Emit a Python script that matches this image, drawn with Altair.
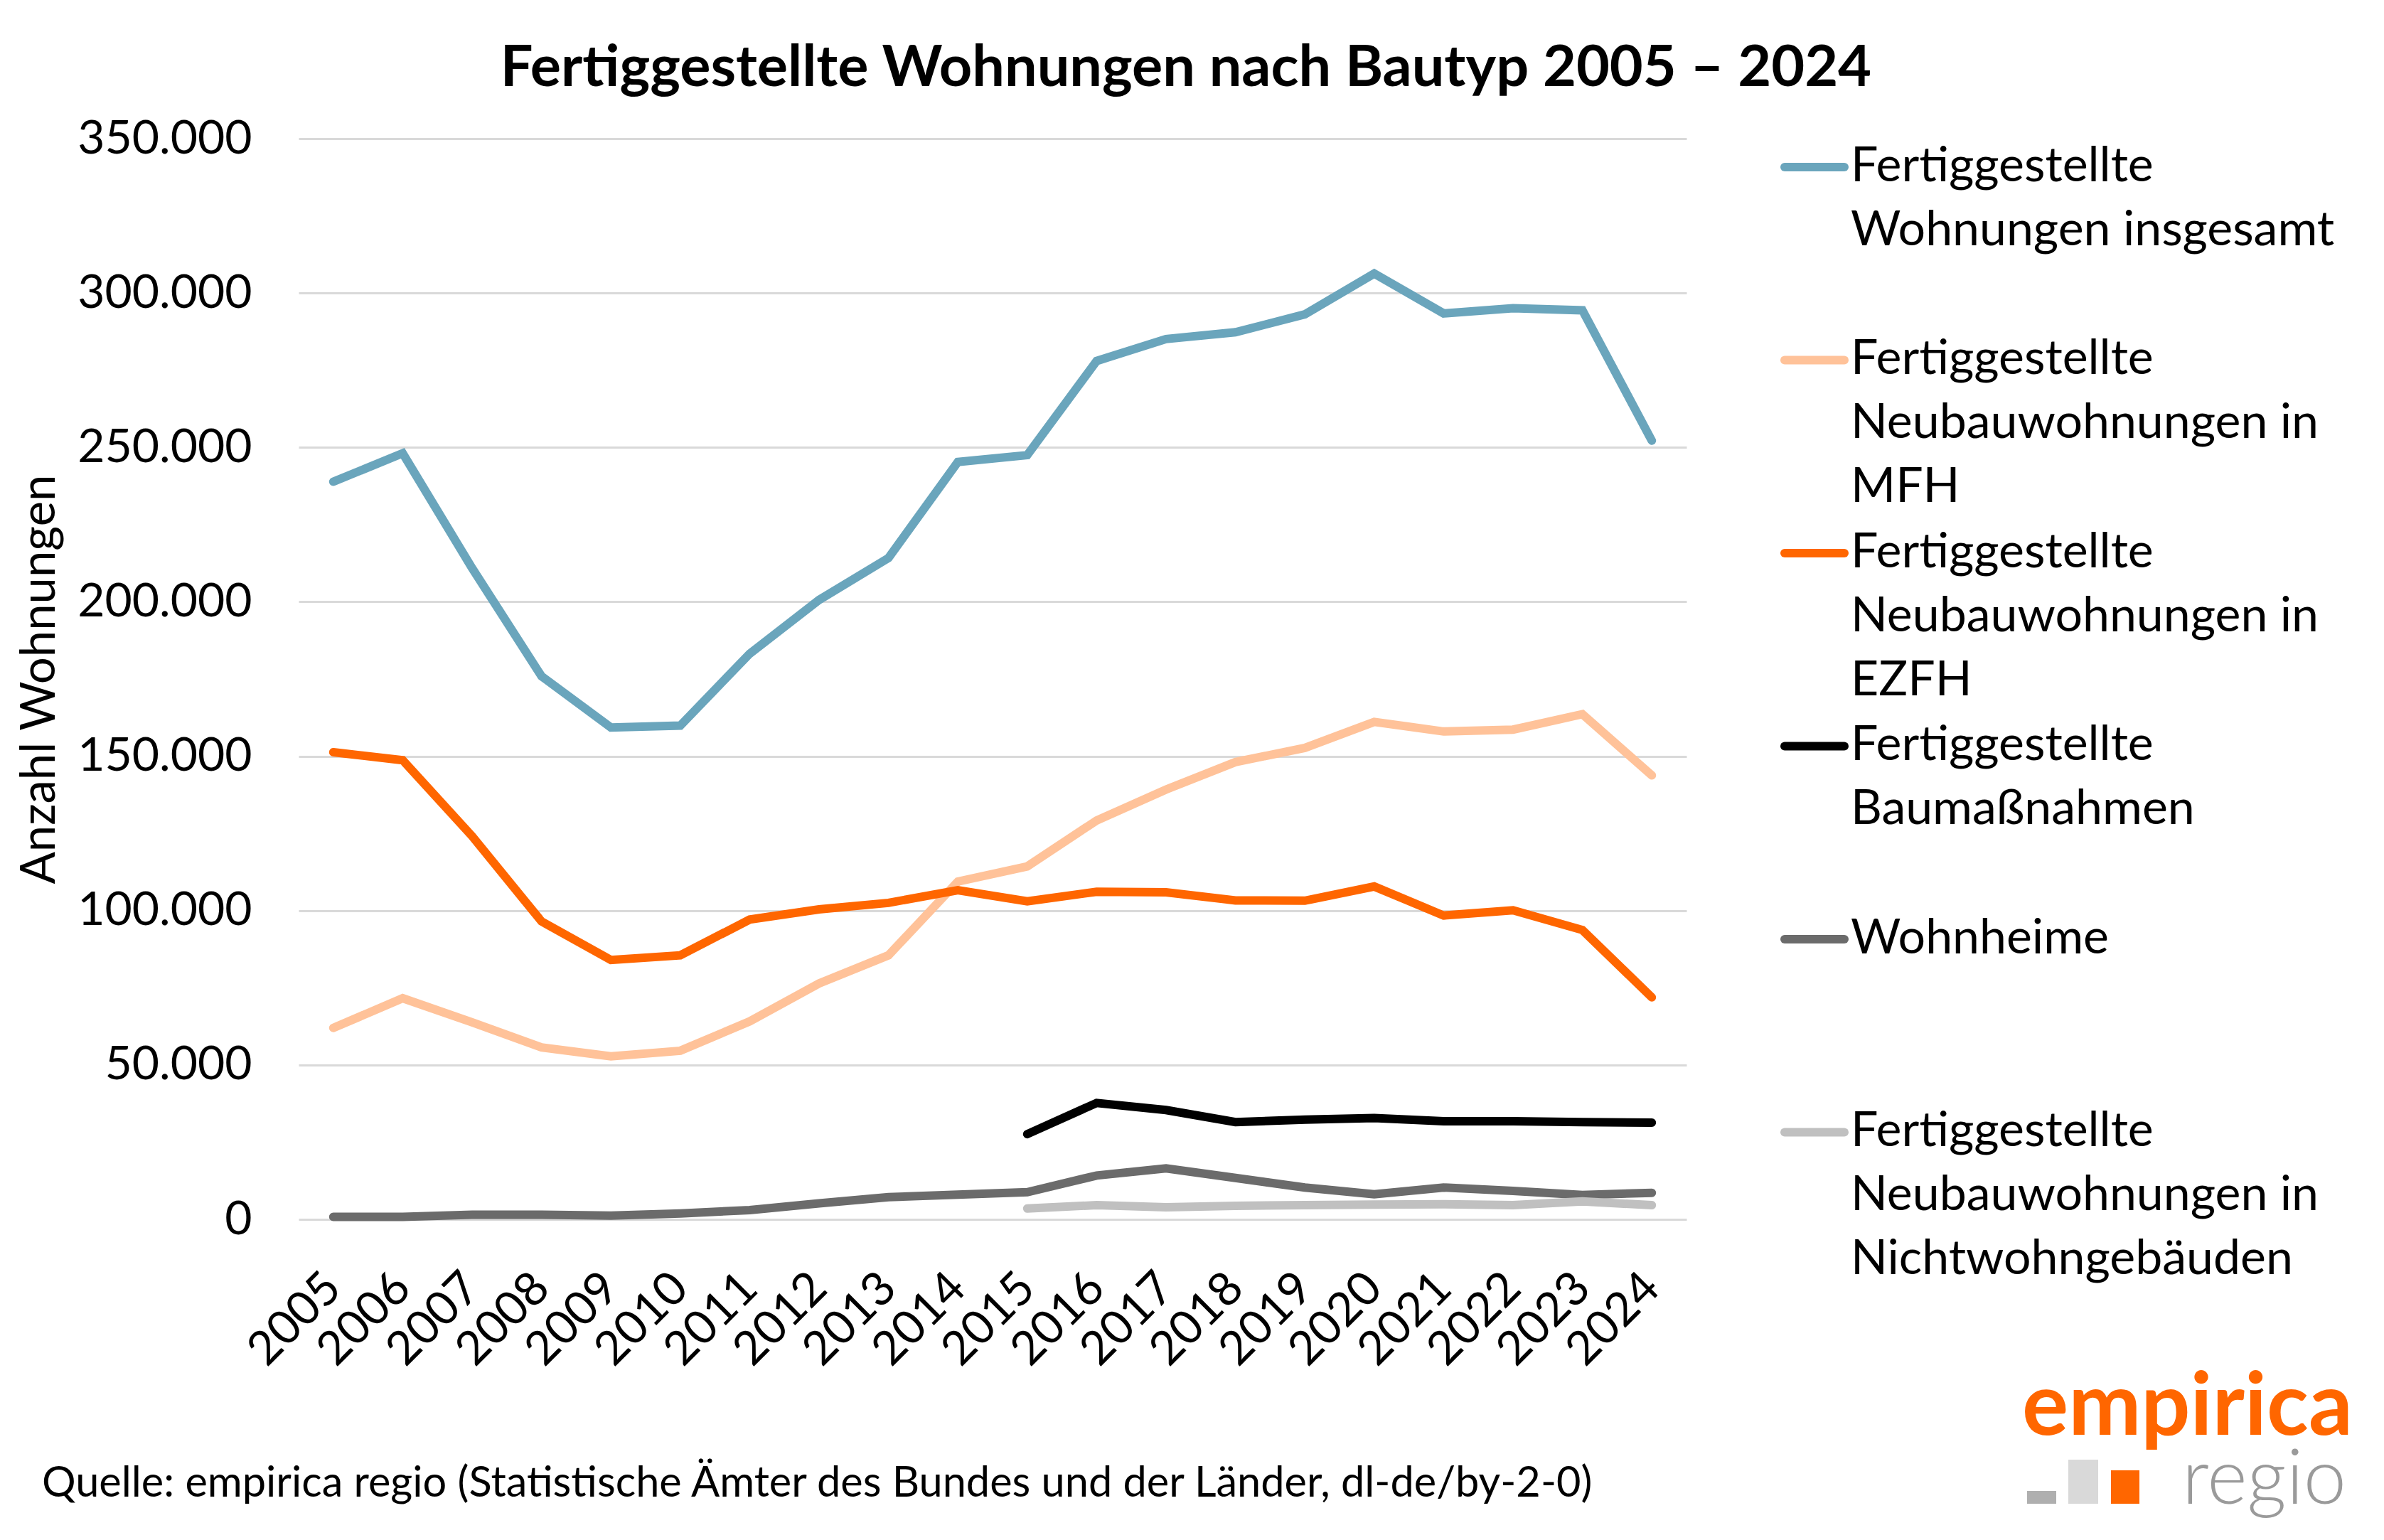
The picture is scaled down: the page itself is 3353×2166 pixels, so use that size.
import altair as alt
import pandas as pd

# ---------------- data ----------------
years = [str(y) for y in range(2005, 2025)]
years_late = [str(y) for y in range(2015, 2025)]

insgesamt = [238900, 248100, 210900, 175900, 159300, 159900, 183200, 200600, 214200, 245300,
             247500, 278000, 285100, 287300, 293100, 306300, 293400, 295100, 294400, 252200]
mfh = [62000, 71600, 63800, 55700, 52800, 54600, 64100, 76400, 85500, 109400,
       114300, 129200, 139200, 148100, 152700, 161100, 158000, 158600, 163600, 143800]
ezfh = [151300, 148700, 124100, 96500, 84000, 85500, 97100, 100400, 102500, 106600,
        103000, 106100, 105900, 103300, 103200, 107800, 98400, 100100, 93700, 71900]
baumassnahmen = [27600, 37700, 35400, 31500, 32300, 32800, 31800, 31800, 31500, 31300]
wohnheime = [800, 800, 1500, 1500, 1200, 1900, 3000, 5200, 7200, 8000,
             8800, 14200, 16500, 13400, 10300, 8100, 10300, 9200, 7900, 8600]
nichtwohn = [3500, 4600, 3900, 4400, 4600, 4800, 4900, 4600, 5800, 4600]

series_keys = ["insgesamt", "mfh", "ezfh", "bau", "wohnheime", "nichtwohn"]
series_labels = [
    "Fertiggestellte\nWohnungen insgesamt",
    "Fertiggestellte\nNeubauwohnungen in\nMFH",
    "Fertiggestellte\nNeubauwohnungen in\nEZFH",
    "Fertiggestellte\nBaumaßnahmen",
    "Wohnheime",
    "Fertiggestellte\nNeubauwohnungen in\nNichtwohngebäuden",
]
colors = ["#6AA5BC", "#FFC299", "#FF6600", "#000000", "#6B6B6B", "#C0C0C0"]
y_ticks = [0, 50000, 100000, 150000, 200000, 250000, 300000, 350000]

title_text = "Fertiggestellte Wohnungen nach Bautyp 2005 – 2024"
source_text = "Quelle: empirica regio (Statistische Ämter des Bundes und der Länder, dl-de/by-2-0)"

# ---------------- build table ----------------
rows = []
for key, yrs, vals in [
    ("insgesamt", years, insgesamt),
    ("mfh", years, mfh),
    ("ezfh", years, ezfh),
    ("bau", years_late, baumassnahmen),
    ("wohnheime", years, wohnheime),
    ("nichtwohn", years_late, nichtwohn),
]:
    for y, v in zip(yrs, vals):
        rows.append({"Jahr": y, "Serie": key, "Wert": v})
df = pd.DataFrame(rows)

color_scale = alt.Scale(domain=series_keys, range=colors)
FONT = "Lato"
LW = 12

lines = alt.Chart(df).mark_line(strokeWidth=LW, strokeCap="round").encode(
    x=alt.X(
        "Jahr:O",
        sort=years,
        scale=alt.Scale(type="point", padding=0.5),
        axis=alt.Axis(
            title=None, labelAngle=-45, labelAlign="right", labelBaseline="middle",
            labelPadding=86, labelFontSize=66, labelFont=FONT, labelColor="#000000",
            ticks=False, domain=False, grid=False, labelLimit=1000, maxExtent=1000,
        ),
    ),
    y=alt.Y(
        "Wert:Q",
        scale=alt.Scale(domain=[0, 350000], nice=False),
        axis=alt.Axis(
            values=y_ticks,
            labelExpr="replace(format(datum.value, ','), ',', '.')",
            title="Anzahl Wohnungen", titleFontSize=67, titleFont=FONT,
            titleFontWeight="normal", titleColor="#000000", titlePadding=18,
            labelFontSize=66, labelFont=FONT, labelColor="#000000", labelPadding=66,
            labelLimit=1000, maxExtent=1000,
            ticks=False, tickSize=0, domain=False,
            gridColor="#D9D9D9", gridWidth=3,
        ),
    ),
    color=alt.Color("Serie:N", scale=color_scale, legend=None),
)

src = alt.Chart(pd.DataFrame({"t": [source_text]})).mark_text(
    align="left", baseline="middle", fontSize=59.5, font=FONT, color="#000000"
).encode(x=alt.value(58 - 419), y=alt.value(2089 - 197), text="t:N")

main = alt.layer(lines, src).properties(width=1952, height=1520)

# ---------------- legend panel ----------------
leg_df = pd.DataFrame({"Serie": series_keys, "Label": series_labels, "Platz": list(range(6))})
yleg = alt.Y("Platz:Q", scale=alt.Scale(domain=[-0.1473, 5.4512], reverse=True, nice=False, zero=False), axis=None)

sym = alt.Chart(leg_df).mark_rule(strokeWidth=LW, strokeCap="round").encode(
    x=alt.value(7), x2=alt.value(91), y=yleg,
    color=alt.Color("Serie:N", scale=color_scale, legend=None),
)
txt = alt.Chart(leg_df).mark_text(
    align="left", baseline="middle", lineBreak="\n", lineHeight=90,
    fontSize=68, font=FONT, color="#000000",
).encode(x=alt.value(100), y=yleg, text="Label:N")

one = pd.DataFrame({"a": [1]})
emp = alt.Chart(one).mark_text(
    text="empirica", align="left", baseline="alphabetic", fontSize=122,
    font=FONT, fontWeight="bold", color="#FF6600",
).encode(x=alt.value(341), y=alt.value(1823))
reg = alt.Chart(one).mark_text(
    text="regio", align="right", baseline="alphabetic", fontSize=108,
    font=FONT, fontWeight=300, color="#9A9A9A",
).encode(x=alt.value(797), y=alt.value(1920))
sq1 = alt.Chart(one).mark_rect(color="#AFAFAF").encode(
    x=alt.value(348), x2=alt.value(389), y=alt.value(1902), y2=alt.value(1920))
sq2 = alt.Chart(one).mark_rect(color="#D9D9D9").encode(
    x=alt.value(406), x2=alt.value(448), y=alt.value(1858), y2=alt.value(1920))
sq3 = alt.Chart(one).mark_rect(color="#FF6600").encode(
    x=alt.value(466), x2=alt.value(506), y=alt.value(1873), y2=alt.value(1920))

legend_panel = alt.layer(sym, txt, emp, reg, sq1, sq2, sq3).properties(width=810, height=1520)

chart = alt.hconcat(main, legend_panel, spacing=131).resolve_scale(
    x="independent", y="independent"
).properties(
    title=alt.TitleParams(
        text=title_text, fontSize=81, font=FONT, fontWeight="bold",
        anchor="middle", offset=24, color="#000000",
    ),
    padding={"left": 14, "top": 48, "right": 10, "bottom": 10},
).configure_view(stroke=None)

chart.save("out.html", embed_options={"renderer": "svg", "actions": False})
